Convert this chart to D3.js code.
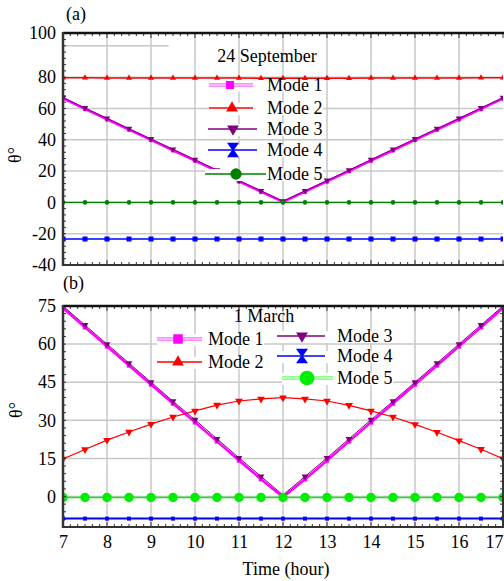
<!DOCTYPE html>
<html><head><meta charset="utf-8">
<script src="https://cdn.jsdelivr.net/npm/d3@7"></script>
<style>
body{margin:0;background:#fff}
svg{display:block}
svg text{font-family:"Liberation Serif","Tinos","DejaVu Serif",serif !important;font-size:18px;fill:#000}
</style>
</head><body><svg id="c" width="504" height="581"></svg>
<script>
// ---------- DATA ----------
const hours = [7,7.5,8,8.5,9,9.5,10,10.5,11,11.5,12,12.5,13,13.5,14,14.5,15,15.5,16,16.5,17];
const modeNames = ["Mode 1","Mode 2","Mode 3","Mode 4","Mode 5"];

// (a) 24 September
const sepMode1 = [66.5,59.7,53.1,46.5,39.9,33.3,26.7,20.0,13.4,6.8,0.3,6.8,13.4,20.0,26.7,33.3,39.9,46.5,53.1,59.7,66.4];
const sepMode2 = [79.6,79.6,79.5,79.5,79.5,79.4,79.4,79.4,79.4,79.3,79.3,79.3,79.3,79.3,79.4,79.4,79.4,79.5,79.5,79.6,79.6];
const sepMode3 = [67.0,60.3,53.7,47.1,40.5,33.9,27.3,20.6,14.0,7.4,0.8,7.4,14.0,20.6,27.3,33.9,40.5,47.1,53.7,60.3,66.9];
const sepMode4 = [-23.4,-23.4,-23.4,-23.4,-23.4,-23.4,-23.4,-23.4,-23.4,-23.4,-23.4,-23.4,-23.4,-23.4,-23.4,-23.4,-23.4,-23.4,-23.4,-23.4,-23.4];
const sepMode5 = [0,0,0,0,0,0,0,0,0,0,0,0,0,0,0,0,0,0,0,0,0];

// (b) 1 March
const marMode1 = [74.2,66.6,59.1,51.6,44.1,36.6,29.2,21.7,14.2,6.8,-0.2,6.8,14.2,21.7,29.2,36.6,44.1,51.6,59.1,66.6,74.2];
const marMode2 = [14.8,18.5,22.2,25.4,28.5,31.3,33.7,36.0,37.6,38.4,38.9,38.4,37.6,35.9,33.7,31.3,28.4,25.3,22.0,18.6,14.9];
const marMode3 = [75.0,67.5,60.0,52.5,45.0,37.5,30.2,22.7,15.2,7.9,0.6,7.9,15.2,22.7,30.2,37.5,45.0,52.5,60.0,67.5,75.0];
const marMode4 = [-8.7,-8.7,-8.7,-8.7,-8.7,-8.7,-8.7,-8.7,-8.7,-8.7,-8.7,-8.7,-8.7,-8.7,-8.7,-8.7,-8.7,-8.7,-8.7,-8.7,-8.7];
const marMode5 = [-0.4,-0.4,-0.4,-0.4,-0.4,-0.4,-0.4,-0.4,-0.4,-0.4,-0.4,-0.4,-0.4,-0.4,-0.4,-0.4,-0.4,-0.4,-0.4,-0.4,-0.4];

// ticks
const xTicks = [7,8,9,10,11,12,13,14,15,16,17];
const yTicksA = [-40,-20,0,20,40,60,80];
const yTopLabelA = "100";
const yGridA = [-20,0,20,40,60,80];
const yTicksB = [0,15,30,45,60,75];
const yGridB = [0,15,30,45,60];

// ---------- DRAW ----------
const FONT = '"Liberation Serif","Tinos","DejaVu Serif",serif';
const svg = d3.select("#c").attr("font-family",FONT);
const x = d3.scaleLinear([7,17],[63,503]);
const yA = d3.scaleLinear([-40,108.2],[265,33]);
const yB = d3.scaleLinear([-12,75],[527,306]);

const GRID = "#c8c8c8";
const AX = "#333";

function sym(type, size){
  if(type==="hour"){
    const w=size, h=size*1.2;
    return `M${-w},${-h}L${w},${-h}L${w*0.15},0L${w},${h}L${-w},${h}L${-w*0.15},0Z`;
  }
  const t = {square:d3.symbolSquare, up:d3.symbolTriangle, down:d3.symbolTriangle, circle:d3.symbolCircle}[type];
  return d3.symbol(t, size)();
}

function txt(sel){ return sel.attr("font-family",FONT).attr("font-size",18); }

function panel(o){
  const g = svg.append("g");
  const y = o.y;
  // grid
  g.selectAll(".vg").data(xTicks.slice(1,-1)).join("line")
    .attr("x1",d=>x(d)).attr("x2",d=>x(d)).attr("y1",y.range()[1]).attr("y2",y.range()[0])
    .attr("stroke",GRID).attr("stroke-width",1.5);
  g.selectAll(".hg").data(o.grid).join("line")
    .attr("x1",x(7)).attr("x2",x(17)).attr("y1",d=>y(d)).attr("y2",d=>y(d))
    .attr("stroke",GRID).attr("stroke-width",1.5);
  if(o.extraGrid){
    g.append("line").attr("x1",x(7)).attr("x2",x(o.extraGrid[1])).attr("y1",y(o.extraGrid[0])).attr("y2",y(o.extraGrid[0]))
      .attr("stroke",GRID).attr("stroke-width",1.5);
  }
  // series
  const clip = "clip"+o.id;
  svg.append("clipPath").attr("id",clip).append("rect")
    .attr("x",x(7)).attr("y",y.range()[1]).attr("width",x(17)-x(7)).attr("height",y.range()[0]-y.range()[1]);
  const sg = g.append("g").attr("clip-path",`url(#${clip})`);
  o.series.forEach(s=>{
    const line = d3.line().x((d,i)=>x(hours[i])).y(d=>y(d));
    sg.append("path").attr("d",line(s.values)).attr("fill","none").attr("stroke",s.color).attr("stroke-width",s.width);
    const p = sym(s.marker,s.msize);
    sg.selectAll(null).data(s.values).join("path")
      .attr("d",p)
      .attr("transform",(d,i)=>`translate(${x(hours[i])},${y(d)})${s.marker==="down"?" rotate(180)":""}`)
      .attr("fill",s.mcolor||s.color);
  });
  // legend
  const lg = g.append("g");
  txt(lg.append("text")).attr("x",o.title.x).attr("y",o.title.y).attr("text-anchor","middle").text(o.title.text);
  o.legend.forEach(e=>{
    const s = o.series[e.idx];
    lg.append("rect").attr("x",e.x1).attr("y",e.y-5).attr("width",e.tx+56-e.x1).attr("height",12).attr("fill","#fff");
    if(e.double){
      lg.append("line").attr("x1",e.x1).attr("x2",e.x2).attr("y1",e.y).attr("y2",e.y).attr("stroke",e.double).attr("stroke-width",3.5);
      lg.append("line").attr("x1",e.x1).attr("x2",e.x2).attr("y1",e.y).attr("y2",e.y).attr("stroke","#fff").attr("stroke-width",1);
    } else {
      lg.append("line").attr("x1",e.x1).attr("x2",e.x2).attr("y1",e.y).attr("y2",e.y).attr("stroke",s.color).attr("stroke-width",1.6);
    }
    const mk = e.mk || s.marker;
    lg.append("path").attr("d",sym(mk,e.ms))
      .attr("transform",`translate(${e.mx},${e.y})${mk==="down"?" rotate(180)":""}`)
      .attr("fill",s.mcolor||s.color);
    txt(lg.append("text")).attr("x",e.tx).attr("y",e.y+6).text(modeNames[e.idx]);
  });
  // axes: minor ticks
  const minorX = d3.range(7,17.0001,1/6);
  const ax = g.append("g");
  ax.selectAll(".tt").data(minorX).join("line")
    .attr("x1",d=>x(d)).attr("x2",d=>x(d)).attr("y1",y.range()[1]).attr("y2",d=>y.range()[1]+(Math.abs(d-Math.round(d))<1e-6?5:3))
    .attr("stroke",AX).attr("stroke-width",1);
  ax.selectAll(".bt").data(minorX).join("line")
    .attr("x1",d=>x(d)).attr("x2",d=>x(d)).attr("y1",y.range()[0]).attr("y2",d=>y.range()[0]-(Math.abs(d-Math.round(d))<1e-6?5:3))
    .attr("stroke",AX).attr("stroke-width",1);
  const minorY = d3.range(y.domain()[0], y.domain()[1]+0.001, o.minorStep);
  ax.selectAll(".lt").data(minorY).join("line")
    .attr("x1",x(7)).attr("x2",x(7)+3).attr("y1",d=>y(d)).attr("y2",d=>y(d))
    .attr("stroke",AX).attr("stroke-width",1);
  if(o.rightAxis){
    ax.selectAll(".rt").data(minorY).join("line")
      .attr("x1",x(17)).attr("x2",x(17)-3).attr("y1",d=>y(d)).attr("y2",d=>y(d))
      .attr("stroke",AX).attr("stroke-width",1);
    ax.append("line").attr("x1",x(17)).attr("x2",x(17)).attr("y1",y.range()[1]).attr("y2",y.range()[0]).attr("stroke",AX).attr("stroke-width",2);
  }
  // frame lines
  ax.append("line").attr("x1",x(7)).attr("x2",504).attr("y1",y.range()[1]).attr("y2",y.range()[1]).attr("stroke","#111").attr("stroke-width",2.5);
  ax.append("line").attr("x1",x(7)).attr("x2",504).attr("y1",y.range()[0]).attr("y2",y.range()[0]).attr("stroke",AX).attr("stroke-width",2);
  ax.append("line").attr("x1",x(7)).attr("x2",x(7)).attr("y1",y.range()[1]-1).attr("y2",y.range()[0]+1).attr("stroke",AX).attr("stroke-width",2.5);
  // y labels
  const yl = g.append("g").attr("transform",`translate(${x(7)},0)`)
    .call(d3.axisLeft(y).tickValues(o.yTicks).tickSize(0).tickPadding(7).tickFormat(d=>d))
    .attr("font-family",FONT).attr("font-size",18);
  yl.select(".domain").remove();
  if(o.topLabel){
    txt(g.append("text")).attr("x",x(7)-7).attr("y",y.range()[1]).attr("dy","0.32em").attr("text-anchor","end").text(o.topLabel);
  }
  // y title
  txt(g.append("text")).attr("transform",`translate(${o.ytx},${o.yty}) rotate(-90)`).attr("text-anchor","middle").attr("dy","0.35em").text("θ°");
  // panel tag
  txt(g.append("text")).attr("x",o.tag.x).attr("y",o.tag.y).text(o.tag.text);
  return g;
}

panel({
  id:"a", y:yA, grid:yGridA, extraGrid:[100,9.4], yTicks:yTicksA, topLabel:yTopLabelA, minorStep:4,
  ytx:15, yty:155, tag:{x:66,y:20,text:"(a)"},
  title:{x:267,y:62,text:"24 September"},
  series:[
    {values:sepMode1,color:"#ff00ff",width:2.5,marker:"square",msize:18},
    {values:sepMode2,color:"#ff0000",width:1.5,marker:"up",msize:16},
    {values:sepMode3,color:"#800080",width:1,marker:"down",msize:18},
    {values:sepMode4,color:"#0000ff",width:1.5,marker:"square",msize:25},
    {values:sepMode5,color:"#008000",width:1.3,marker:"circle",msize:16}
  ],
  legend:[
    {idx:0,y:85,x1:209,x2:253,mx:230,ms:64,tx:267,double:"#ff66ff"},
    {idx:1,y:108,x1:209,x2:253,mx:232,ms:60,tx:267},
    {idx:2,y:129,x1:208,x2:257,mx:233,ms:60,tx:267},
    {idx:3,y:150,x1:208,x2:257,mx:233,ms:6,tx:267,mk:"hour"},
    {idx:4,y:174,x1:205,x2:266,mx:236,ms:100,tx:267}
  ]
});

panel({
  id:"b", y:yB, grid:yGridB, yTicks:yTicksB, minorStep:3, rightAxis:true,
  ytx:16, yty:410, tag:{x:63,y:289,text:"(b)"},
  title:{x:264,y:322,text:"1 March"},
  series:[
    {values:marMode1,color:"#ff00ff",width:2.5,marker:"square",msize:20},
    {values:marMode2,color:"#ff0000",width:1.2,marker:"down",msize:26},
    {values:marMode3,color:"#800080",width:1,marker:"down",msize:20},
    {values:marMode4,color:"#0000ff",width:2,marker:"square",msize:16},
    {values:marMode5,color:"#00ee00",width:1.5,marker:"circle",msize:70}
  ],
  legend:[
    {idx:0,y:339,x1:157,x2:202,mx:178,ms:90,tx:208,double:"#ff66ff"},
    {idx:1,y:362,x1:157,x2:202,mx:178,ms:60,tx:208,mk:"up"},
    {idx:2,y:336,x1:277,x2:325,mx:302,ms:60,tx:337},
    {idx:3,y:356,x1:277,x2:325,mx:302,ms:6,tx:337,mk:"hour"},
    {idx:4,y:378,x1:282,x2:333,mx:307,ms:170,tx:337,double:"#66ff66"}
  ]
});

// x labels (b)
const xl = svg.append("g").attr("transform",`translate(0,${yB.range()[0]})`)
  .call(d3.axisBottom(x).tickValues(xTicks).tickSize(0).tickPadding(8).tickFormat(d=>d))
  .attr("font-family",FONT).attr("font-size",18);
xl.select(".domain").remove();
xl.selectAll(".tick").filter(d=>d===17).select("text").attr("text-anchor","end").attr("x",0);

txt(svg.append("text")).attr("x",286).attr("y",575).attr("text-anchor","middle").text("Time (hour)");
</script>
</body></html>
